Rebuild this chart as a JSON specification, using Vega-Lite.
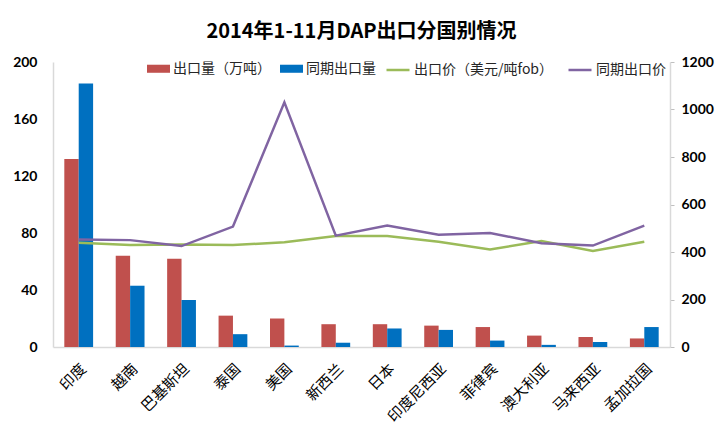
{
  "$schema": "https://vega.github.io/schema/vega-lite/v6.json",
  "width": 617,
  "height": 285,
  "autosize": {"type": "none"},
  "padding": {"left": 53, "top": 62, "right": 46, "bottom": 85},
  "background": "white",
  "title": {
    "text": "2014年1-11月DAP出口分国别情况",
    "font": "Noto Sans CJK SC",
    "fontSize": 20,
    "fontWeight": "bold",
    "color": "#000000",
    "anchor": "middle",
    "offset": 13
  },
  "config": {
    "view": {"stroke": null}
  },
  "data": {
    "values": [
      {"country": "印度", "出口量（万吨）": 132, "同期出口量": 185, "出口价（美元/吨fob）": 439, "同期出口价": 453},
      {"country": "越南", "出口量（万吨）": 64, "同期出口量": 43, "出口价（美元/吨fob）": 429, "同期出口价": 450},
      {"country": "巴基斯坦", "出口量（万吨）": 62, "同期出口量": 33, "出口价（美元/吨fob）": 432, "同期出口价": 425},
      {"country": "泰国", "出口量（万吨）": 22, "同期出口量": 9, "出口价（美元/吨fob）": 429, "同期出口价": 507},
      {"country": "美国", "出口量（万吨）": 20, "同期出口量": 1, "出口价（美元/吨fob）": 441, "同期出口价": 1030},
      {"country": "新西兰", "出口量（万吨）": 16, "同期出口量": 3, "出口价（美元/吨fob）": 467, "同期出口价": 469},
      {"country": "日本", "出口量（万吨）": 16, "同期出口量": 13, "出口价（美元/吨fob）": 467, "同期出口价": 512},
      {"country": "印度尼西亚", "出口量（万吨）": 15, "同期出口量": 12, "出口价（美元/吨fob）": 443, "同期出口价": 473},
      {"country": "菲律宾", "出口量（万吨）": 14, "同期出口量": 4.5, "出口价（美元/吨fob）": 411, "同期出口价": 480},
      {"country": "澳大利亚", "出口量（万吨）": 8, "同期出口量": 1.5, "出口价（美元/吨fob）": 446, "同期出口价": 437},
      {"country": "马来西亚", "出口量（万吨）": 7, "同期出口量": 3.5, "出口价（美元/吨fob）": 404, "同期出口价": 427},
      {"country": "孟加拉国", "出口量（万吨）": 6, "同期出口量": 14, "出口价（美元/吨fob）": 443, "同期出口价": 511}
    ]
  },
  "encoding": {
    "x": {
      "field": "country",
      "type": "nominal",
      "sort": null,
      "scale": {"paddingInner": 0.44, "paddingOuter": 0.22},
      "axis": {
        "title": null,
        "labelAngle": -45,
        "labelFont": "Noto Sans CJK SC",
        "labelFontSize": 15,
        "labelColor": "#000000",
        "labelPadding": 14,
        "ticks": false,
        "domainColor": "#d9d9d9",
        "domainWidth": 1.5,
        "grid": false,
        "labelLimit": 200
      }
    }
  },
  "layer": [
    {
      "transform": [{"fold": ["出口量（万吨）", "同期出口量"], "as": ["series", "value"]}],
      "mark": {"type": "bar"},
      "encoding": {
        "xOffset": {
          "field": "series",
          "type": "nominal",
          "scale": {"domain": ["出口量（万吨）", "同期出口量"], "paddingInner": 0}
        },
        "y": {
          "field": "value",
          "type": "quantitative",
          "scale": {"domain": [0, 200]},
          "axis": {
            "title": null,
            "values": [0, 40, 80, 120, 160, 200],
            "format": "d",
            "grid": false,
            "ticks": false,
            "labelPadding": 16,
            "labelFont": "Lato",
            "labelFontSize": 14,
            "labelFontWeight": "bold",
            "labelColor": "#000000",
            "domainColor": "#d9d9d9",
            "domainWidth": 1.5
          }
        },
        "color": {
          "field": "series",
          "type": "nominal",
          "scale": {"domain": ["出口量（万吨）", "同期出口量"], "range": ["#C0504D", "#0070C0"]},
          "legend": {
            "title": null,
            "orient": "none",
            "legendX": 94,
            "legendY": -5,
            "direction": "horizontal",
            "symbolType": "M-1,-0.35H1V0.35H-1Z",
            "symbolSize": 529,
            "symbolStrokeWidth": 0,
            "labelFont": "Noto Sans CJK SC",
            "labelFontSize": 14,
            "labelColor": "#262626",
            "labelOffset": 3,
            "columnPadding": 9
          }
        }
      }
    },
    {
      "transform": [{"fold": ["出口价（美元/吨fob）", "同期出口价"], "as": ["series2", "price"]}],
      "mark": {"type": "line", "strokeWidth": 2.5},
      "encoding": {
        "y": {
          "field": "price",
          "type": "quantitative",
          "scale": {"domain": [0, 1200]},
          "axis": {
            "title": null,
            "orient": "right",
            "values": [0, 200, 400, 600, 800, 1000, 1200],
            "format": "d",
            "grid": false,
            "tickSize": 4,
            "tickColor": "#bfbfbf",
            "labelPadding": 7,
            "labelFont": "Lato",
            "labelFontSize": 14,
            "labelFontWeight": "bold",
            "labelColor": "#000000",
            "domainColor": "#d9d9d9",
            "domainWidth": 1.5
          }
        },
        "stroke": {
          "field": "series2",
          "type": "nominal",
          "scale": {"domain": ["出口价（美元/吨fob）", "同期出口价"], "range": ["#9BBB59", "#8064A2"]},
          "legend": {
            "title": null,
            "orient": "none",
            "legendX": 332,
            "legendY": -5,
            "direction": "horizontal",
            "symbolType": "stroke",
            "symbolSize": 529,
            "symbolStrokeWidth": 2.5,
            "labelFont": "Noto Sans CJK SC",
            "labelFontSize": 14,
            "labelColor": "#262626",
            "labelOffset": 3,
            "columnPadding": 9
          }
        }
      }
    }
  ],
  "resolve": {"scale": {"y": "independent"}}
}
